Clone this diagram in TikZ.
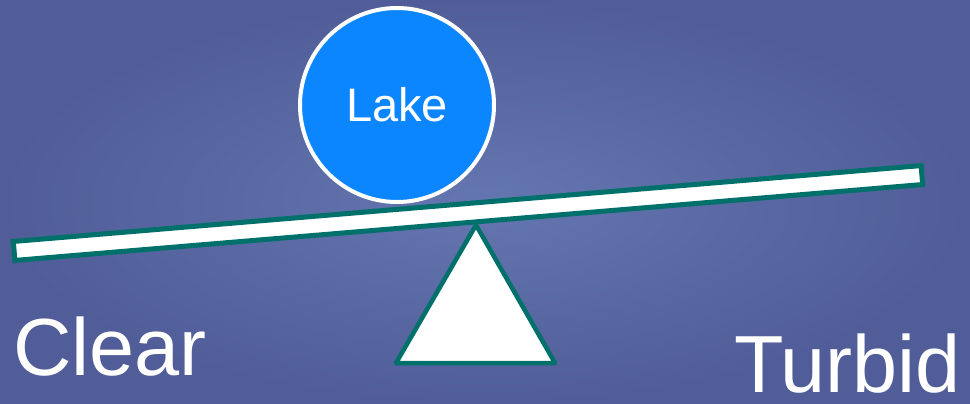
\documentclass[tikz,border=0pt]{standalone}
\usepackage{fontspec}
\setmainfont{Liberation Sans}
\definecolor{fondo}{RGB}{80,93,152}
\definecolor{fondoclaro}{RGB}{100,118,176}
\definecolor{azul}{RGB}{12,134,255}
\definecolor{verde}{RGB}{0,112,106}
\begin{document}
\begin{tikzpicture}[
        x=1pt, y=-1pt,
        palanca/.style={
            rectangle,
            draw=verde,
            fill=white,
            line width=5pt,
            minimum width=911pt,
            minimum height=19pt,
            inner sep=0pt
        },
        lago/.style={
            circle,
            draw=white,
            fill=azul,
            line width=4pt,
            minimum size=194pt,
            inner sep=0pt,
            text=white,
            font=\fontsize{47}{56}\selectfont
        },
        rotulo/.style={
            anchor=base west,
            inner sep=0pt,
            text=white,
            font=\fontsize{81}{97}\selectfont
        }
    ]

    % Fondo
    \shade[inner color=fondoclaro, outer color=fondo] (0,0) rectangle (970,404);
    \useasboundingbox (0,0) rectangle (970,404);

    % Lago
    \node[lago] (lake) at (397,105) {Lake};

    % Palanca
    \node[palanca, rotate=4.78] (beam) at (468,213) {};

    % Punto de apoyo
    \coordinate (apex) at (476,225);
    \coordinate (left) at (396,363);
    \coordinate (right) at (555,363);
    \draw[verde, fill=white, line width=4.5pt, line join=round]
        (apex) -- (left) -- (right) -- cycle;

    % Estados
    \node[rotulo] (clear) at (13,375) {Clear};
    \node[rotulo] (turbid) at (734,392) {Turbid};

\end{tikzpicture}
\end{document}
